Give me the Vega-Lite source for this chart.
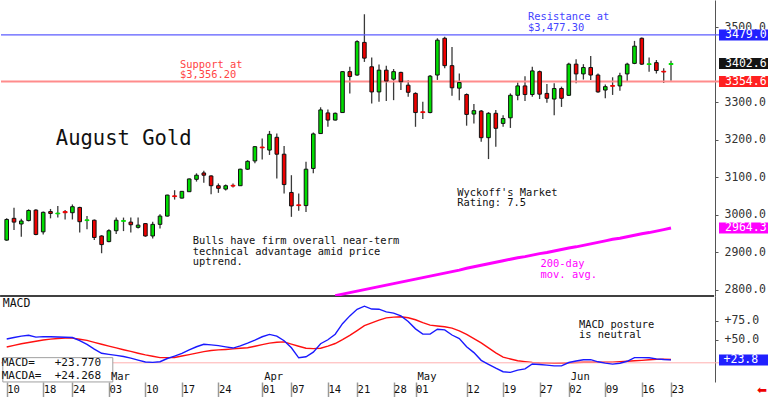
{
"$schema": "https://vega.github.io/schema/vega-lite/v6.json",
"padding": 0,
"background": "white",
"spacing": 0,
"bounds": "flush",
"config": {"view": {"stroke": null}, "font": "DejaVu Sans Mono", "axis": {"grid": false, "labelFont": "DejaVu Sans Mono"}},
"resolve": {"scale": {"x": "independent", "y": "independent"}},
"datasets": {"px": [
{"d":"2025-02-10","o":2932,"h":2990,"l":2930,"c":2987,"m":51.0,"s":40.6},
{"d":"2025-02-11","o":2990,"h":3018,"l":2959,"c":2980,"m":52.9,"s":42.7},
{"d":"2025-02-12","o":2975,"h":2989,"l":2941,"c":2983,"m":54.7,"s":44.8},
{"d":"2025-02-13","o":2984,"h":3014,"l":2982,"c":3011,"m":55.9,"s":46.4},
{"d":"2025-02-14","o":3012,"h":3014,"l":2945,"c":2947,"m":53.5,"s":48.1},
{"d":"2025-02-18","o":2954,"h":3008,"l":2947,"c":3006,"m":54.1,"s":49.7},
{"d":"2025-02-19","o":3008,"h":3015,"l":2990,"c":3003,"m":54.0,"s":50.8},
{"d":"2025-02-20","o":3002,"h":3023,"l":2992,"c":3004,"m":53.6,"s":51.7},
{"d":"2025-02-21","o":3008,"h":3012,"l":2987,"c":3005,"m":53.2,"s":52.1},
{"d":"2025-02-24","o":3005,"h":3027,"l":2987,"c":3021,"m":52.9,"s":52.1},
{"d":"2025-02-25","o":3019,"h":3021,"l":2952,"c":2981,"m":48.9,"s":50.7},
{"d":"2025-02-26","o":2984,"h":2996,"l":2961,"c":2986,"m":44.0,"s":49.2},
{"d":"2025-02-27","o":2985,"h":2987,"l":2932,"c":2939,"m":37.9,"s":46.7},
{"d":"2025-02-28","o":2943,"h":2945,"l":2897,"c":2920,"m":32.4,"s":44.1},
{"d":"2025-03-03","o":2928,"h":2961,"l":2926,"c":2957,"m":31.0,"s":41.7},
{"d":"2025-03-04","o":2957,"h":2992,"l":2948,"c":2985,"m":29.6,"s":39.4},
{"d":"2025-03-05","o":2982,"h":2992,"l":2956,"c":2984,"m":28.2,"s":37.0},
{"d":"2025-03-06","o":2980,"h":2992,"l":2952,"c":2973,"m":26.1,"s":34.8},
{"d":"2025-03-07","o":2966,"h":2992,"l":2963,"c":2972,"m":23.5,"s":32.5},
{"d":"2025-03-10","o":2976,"h":2977,"l":2941,"c":2943,"m":21.0,"s":30.4},
{"d":"2025-03-11","o":2943,"h":2981,"l":2936,"c":2974,"m":20.5,"s":28.6},
{"d":"2025-03-12","o":2974,"h":3001,"l":2963,"c":2996,"m":21.4,"s":26.8},
{"d":"2025-03-13","o":2996,"h":3053,"l":2995,"c":3052,"m":25.6,"s":26.8},
{"d":"2025-03-14","o":3050,"h":3065,"l":3040,"c":3048,"m":28.8,"s":27.0},
{"d":"2025-03-17","o":3044,"h":3063,"l":3043,"c":3062,"m":32.2,"s":28.8},
{"d":"2025-03-18","o":3061,"h":3096,"l":3060,"c":3095,"m":36.7,"s":30.7},
{"d":"2025-03-19","o":3094,"h":3110,"l":3088,"c":3105,"m":40.9,"s":32.6},
{"d":"2025-03-20","o":3111,"h":3117,"l":3085,"c":3105,"m":44.2,"s":34.5},
{"d":"2025-03-21","o":3103,"h":3105,"l":3054,"c":3077,"m":43.3,"s":36.1},
{"d":"2025-03-24","o":3077,"h":3083,"l":3058,"c":3070,"m":42.4,"s":36.8},
{"d":"2025-03-25","o":3068,"h":3080,"l":3064,"c":3077,"m":40.8,"s":37.4},
{"d":"2025-03-26","o":3078,"h":3083,"l":3072,"c":3076,"m":39.2,"s":38.1},
{"d":"2025-03-27","o":3077,"h":3122,"l":3077,"c":3121,"m":42.0,"s":38.9},
{"d":"2025-03-28","o":3121,"h":3145,"l":3119,"c":3142,"m":45.6,"s":39.6},
{"d":"2025-03-31","o":3143,"h":3183,"l":3137,"c":3181,"m":49.5,"s":41.6},
{"d":"2025-04-01","o":3180,"h":3203,"l":3147,"c":3178,"m":53.9,"s":43.7},
{"d":"2025-04-02","o":3172,"h":3223,"l":3159,"c":3214,"m":57.0,"s":45.7},
{"d":"2025-04-03","o":3206,"h":3216,"l":3096,"c":3161,"m":54.8,"s":46.8},
{"d":"2025-04-04","o":3161,"h":3183,"l":3056,"c":3080,"m":48.7,"s":47.3},
{"d":"2025-04-07","o":3059,"h":3105,"l":2994,"c":3023,"m":39.5,"s":44.4},
{"d":"2025-04-08","o":3026,"h":3056,"l":3010,"c":3024,"m":26.5,"s":41.6},
{"d":"2025-04-09","o":3024,"h":3141,"l":3007,"c":3121,"m":27.9,"s":38.9},
{"d":"2025-04-10","o":3123,"h":3219,"l":3110,"c":3215,"m":33.8,"s":38.5},
{"d":"2025-04-11","o":3216,"h":3286,"l":3215,"c":3279,"m":44.9,"s":39.0},
{"d":"2025-04-14","o":3271,"h":3280,"l":3234,"c":3252,"m":50.0,"s":41.8},
{"d":"2025-04-15","o":3252,"h":3272,"l":3251,"c":3270,"m":57.2,"s":45.1,"ma":2784},
{"d":"2025-04-16","o":3272,"h":3382,"l":3272,"c":3381,"m":70.9,"s":50.3,"ma":2788},
{"d":"2025-04-17","o":3381,"h":3394,"l":3323,"c":3368,"m":81.1,"s":55.8,"ma":2792},
{"d":"2025-04-21","o":3372,"h":3465,"l":3370,"c":3461,"m":89.7,"s":62.0,"ma":2796},
{"d":"2025-04-22","o":3459,"h":3534,"l":3407,"c":3417,"m":93.8,"s":68.3,"ma":2800},
{"d":"2025-04-23","o":3394,"h":3419,"l":3296,"c":3327,"m":90.0,"s":72.0,"ma":2804},
{"d":"2025-04-24","o":3327,"h":3400,"l":3301,"c":3385,"m":89.8,"s":75.6,"ma":2808},
{"d":"2025-04-25","o":3385,"h":3397,"l":3303,"c":3356,"m":86.4,"s":78.5,"ma":2812},
{"d":"2025-04-28","o":3361,"h":3388,"l":3305,"c":3381,"m":84.7,"s":79.5,"ma":2816},
{"d":"2025-04-29","o":3379,"h":3381,"l":3332,"c":3354,"m":81.1,"s":79.9,"ma":2820},
{"d":"2025-04-30","o":3345,"h":3358,"l":3314,"c":3326,"m":73.8,"s":78.7,"ma":2824},
{"d":"2025-05-01","o":3323,"h":3326,"l":3234,"c":3272,"m":64.2,"s":76.1,"ma":2828},
{"d":"2025-05-02","o":3274,"h":3301,"l":3255,"c":3272,"m":57.3,"s":72.3,"ma":2832},
{"d":"2025-05-05","o":3272,"h":3372,"l":3270,"c":3369,"m":57.4,"s":69.1,"ma":2836},
{"d":"2025-05-06","o":3372,"h":3470,"l":3359,"c":3465,"m":63.7,"s":67.9,"ma":2840},
{"d":"2025-05-07","o":3470,"h":3474,"l":3390,"c":3397,"m":62.9,"s":66.9,"ma":2844},
{"d":"2025-05-08","o":3397,"h":3447,"l":3317,"c":3338,"m":56.2,"s":65.1,"ma":2848},
{"d":"2025-05-09","o":3337,"h":3376,"l":3305,"c":3352,"m":51.5,"s":61.7,"ma":2852},
{"d":"2025-05-12","o":3320,"h":3323,"l":3237,"c":3267,"m":41.0,"s":57.0,"ma":2857},
{"d":"2025-05-13","o":3268,"h":3295,"l":3243,"c":3277,"m":33.3,"s":51.4,"ma":2861},
{"d":"2025-05-14","o":3276,"h":3279,"l":3194,"c":3205,"m":23.2,"s":45.9,"ma":2865},
{"d":"2025-05-15","o":3205,"h":3273,"l":3148,"c":3270,"m":18.1,"s":39.5,"ma":2869},
{"d":"2025-05-16","o":3270,"h":3279,"l":3181,"c":3230,"m":13.0,"s":33.0,"ma":2873},
{"d":"2025-05-19","o":3243,"h":3265,"l":3234,"c":3256,"m":8.4,"s":27.3,"ma":2877},
{"d":"2025-05-20","o":3258,"h":3323,"l":3231,"c":3318,"m":7.5,"s":25.0,"ma":2881},
{"d":"2025-05-21","o":3318,"h":3352,"l":3305,"c":3343,"m":10.5,"s":22.7,"ma":2885},
{"d":"2025-05-22","o":3343,"h":3369,"l":3303,"c":3320,"m":12.1,"s":21.6,"ma":2888},
{"d":"2025-05-23","o":3320,"h":3394,"l":3314,"c":3383,"m":18.5,"s":20.6,"ma":2892},
{"d":"2025-05-27","o":3381,"h":3384,"l":3308,"c":3321,"m":17.8,"s":20.1,"ma":2896},
{"d":"2025-05-28","o":3323,"h":3348,"l":3298,"c":3310,"m":17.0,"s":19.9,"ma":2899},
{"d":"2025-05-29","o":3308,"h":3350,"l":3265,"c":3336,"m":16.0,"s":19.6,"ma":2903},
{"d":"2025-05-30","o":3336,"h":3341,"l":3287,"c":3310,"m":16.0,"s":19.7,"ma":2907},
{"d":"2025-06-02","o":3318,"h":3405,"l":3316,"c":3401,"m":20.4,"s":20.0,"ma":2911},
{"d":"2025-06-03","o":3401,"h":3414,"l":3350,"c":3375,"m":22.3,"s":20.4,"ma":2914},
{"d":"2025-06-04","o":3375,"h":3401,"l":3360,"c":3392,"m":24.0,"s":20.7,"ma":2918},
{"d":"2025-06-05","o":3392,"h":3423,"l":3359,"c":3372,"m":24.1,"s":20.8,"ma":2922},
{"d":"2025-06-06","o":3372,"h":3376,"l":3325,"c":3327,"m":21.3,"s":20.8,"ma":2926},
{"d":"2025-06-09","o":3332,"h":3347,"l":3310,"c":3341,"m":19.6,"s":20.8,"ma":2930},
{"d":"2025-06-10","o":3344,"h":3366,"l":3319,"c":3342,"m":18.3,"s":20.9,"ma":2934},
{"d":"2025-06-11","o":3343,"h":3378,"l":3330,"c":3370,"m":19.5,"s":21.5,"ma":2937},
{"d":"2025-06-12","o":3375,"h":3405,"l":3354,"c":3401,"m":22.0,"s":22.0,"ma":2941},
{"d":"2025-06-13","o":3403,"h":3463,"l":3401,"c":3449,"m":26.8,"s":22.6,"ma":2945},
{"d":"2025-06-16","o":3470,"h":3472,"l":3399,"c":3401,"m":26.8,"s":23.2,"ma":2949},
{"d":"2025-06-17","o":3400,"h":3419,"l":3381,"c":3402,"m":26.6,"s":23.9,"ma":2952},
{"d":"2025-06-18","o":3405,"h":3412,"l":3376,"c":3384,"m":25.1,"s":24.5,"ma":2956},
{"d":"2025-06-20","o":3382,"h":3390,"l":3351,"c":3380,"m":24.3,"s":24.6,"ma":2960},
{"d":"2025-06-23","o":3400,"h":3410,"l":3357,"c":3402.6,"m":23.77,"s":24.27,"ma":2964.3}
]},
"vconcat": [
{
"width": 768, "height": 296,
"data": {"name": "px"},
"layer": [
{"mark": {"type": "rule", "color": "#3a3a3a", "strokeWidth": 1.3},
 "encoding": {
  "x": {"field": "d", "type": "ordinal",
   "axis": {"labels": false, "ticks": false, "domain": false, "title": null},
   "scale": {"type": "point", "padding": 0.603, "align": 0.648, "domain": ["2025-02-10","2025-02-11","2025-02-12","2025-02-13","2025-02-14","2025-02-18","2025-02-19","2025-02-20","2025-02-21","2025-02-24","2025-02-25","2025-02-26","2025-02-27","2025-02-28","2025-03-03","2025-03-04","2025-03-05","2025-03-06","2025-03-07","2025-03-10","2025-03-11","2025-03-12","2025-03-13","2025-03-14","2025-03-17","2025-03-18","2025-03-19","2025-03-20","2025-03-21","2025-03-24","2025-03-25","2025-03-26","2025-03-27","2025-03-28","2025-03-31","2025-04-01","2025-04-02","2025-04-03","2025-04-04","2025-04-07","2025-04-08","2025-04-09","2025-04-10","2025-04-11","2025-04-14","2025-04-15","2025-04-16","2025-04-17","2025-04-21","2025-04-22","2025-04-23","2025-04-24","2025-04-25","2025-04-28","2025-04-29","2025-04-30","2025-05-01","2025-05-02","2025-05-05","2025-05-06","2025-05-07","2025-05-08","2025-05-09","2025-05-12","2025-05-13","2025-05-14","2025-05-15","2025-05-16","2025-05-19","2025-05-20","2025-05-21","2025-05-22","2025-05-23","2025-05-27","2025-05-28","2025-05-29","2025-05-30","2025-06-02","2025-06-03","2025-06-04","2025-06-05","2025-06-06","2025-06-09","2025-06-10","2025-06-11","2025-06-12","2025-06-13","2025-06-16","2025-06-17","2025-06-18","2025-06-20","2025-06-23","2025-06-24","2025-06-25","2025-06-26","2025-06-27","2025-06-30","2025-07-01","2025-07-02","2025-07-03","2025-07-07","2025-07-08","2025-07-09","2025-07-10","2025-07-11"]}},
  "y": {"field": "l", "type": "quantitative", "scale": {"domain": [2783, 3572], "nice": false, "zero": false},
   "axis": {"orient": "right", "offset": -54, "title": null, "values": [2800, 2900, 3000, 3100, 3200, 3300, 3500], "format": ".1f",
    "tickSize": 3, "tickColor": "#555", "domainColor": "#555", "domainWidth": 1, "labelFontSize": 11.5, "labelColor": "#333", "labelPadding": 6, "labelOverlap": false, "labelBound": false, "labelFlush": false, "labelAlign": "left", "labelBaseline": "middle"}},
  "y2": {"field": "h"}}},
{"data": {"values": [{}]}, "mark": {"type": "rule", "color": "#5c5cff", "strokeWidth": 1.3}, "encoding": {"y": {"datum": 3479}}},
{"data": {"values": [{}]}, "mark": {"type": "rule", "color": "#ff8c8c", "strokeWidth": 2}, "encoding": {"y": {"datum": 3354.6}}},
{"data": {"values": [{}]}, "mark": {"type": "tick", "size": 714, "thickness": 1.5, "color": "#000000", "opacity": 1}, "encoding": {"x": {"datum": "2025-04-21", "type": "ordinal"}, "y": {"datum": 2783}}},
{"transform": [{"filter": "isValid(datum.ma)"}], "mark": {"type": "line", "color": "#ff00ff", "strokeWidth": 3, "clip": true}, "encoding": {"x": {"field": "d", "type": "ordinal"}, "y": {"field": "ma", "type": "quantitative"}}},
{"transform": [{"filter": "abs(datum.c - datum.o) >= 4"}],
 "mark": {"type": "bar", "size": 3.6, "strokeWidth": 1, "stroke": "#111111"},
 "encoding": {
  "x": {"field": "d", "type": "ordinal"},
  "y": {"field": "o", "type": "quantitative"},
  "y2": {"field": "c"},
  "fill": {"condition": {"test": "datum.c >= datum.o", "value": "#00dd00"}, "value": "#ee0000"}}},
{"transform": [{"filter": "abs(datum.c - datum.o) < 4"}],
 "mark": {"type": "bar", "size": 4, "strokeWidth": 1},
 "encoding": {
  "x": {"field": "d", "type": "ordinal"},
  "y": {"field": "o", "type": "quantitative"},
  "y2": {"field": "c"},
  "fill": {"condition": {"test": "datum.c >= datum.o", "value": "#00dd00"}, "value": "#ee0000"},
  "stroke": {"condition": {"test": "datum.c >= datum.o", "value": "#00dd00"}, "value": "#ee0000"}}},
{"data": {"values": [{}]}, "mark": {"type": "text", "align": "left", "baseline": "middle", "dx": 3, "fontSize": 10.4, "lineHeight": 10.4, "lineBreak": "\n", "font": "DejaVu Sans Mono", "color": "#4444ff"},
 "encoding": {"x": {"datum": "2025-05-22", "type": "ordinal"}, "y": {"datum": 3526}, "text": {"value": "Resistance at\n$3,477.30"}}},
{"data": {"values": [{}]}, "mark": {"type": "text", "align": "left", "baseline": "middle", "dx": -2, "fontSize": 10.4, "lineHeight": 10.4, "lineBreak": "\n", "font": "DejaVu Sans Mono", "color": "#ff4444"},
 "encoding": {"x": {"datum": "2025-03-17", "type": "ordinal"}, "y": {"datum": 3399}, "text": {"value": "Support at\n$3,356.20"}}},
{"data": {"values": [{}]}, "mark": {"type": "text", "align": "left", "baseline": "middle", "dx": -2, "fontSize": 20.5, "font": "DejaVu Sans Mono", "color": "#111111"},
 "encoding": {"x": {"datum": "2025-02-20", "type": "ordinal"}, "y": {"datum": 3201}, "text": {"value": "August Gold"}}},
{"data": {"values": [{}]}, "mark": {"type": "text", "align": "left", "baseline": "middle", "dx": 3.5, "fontSize": 10.4, "lineHeight": 10.8, "lineBreak": "\n", "font": "DejaVu Sans Mono", "color": "#111111"},
 "encoding": {"x": {"datum": "2025-03-18", "type": "ordinal"}, "y": {"datum": 2930}, "text": {"value": "Bulls have firm overall near-term\ntechnical advantage amid price\nuptrend."}}},
{"data": {"values": [{}]}, "mark": {"type": "text", "align": "left", "baseline": "middle", "dx": -2, "fontSize": 10.4, "lineHeight": 10.2, "lineBreak": "\n", "font": "DejaVu Sans Mono", "color": "#111111"},
 "encoding": {"x": {"datum": "2025-05-09", "type": "ordinal"}, "y": {"datum": 3058}, "text": {"value": "Wyckoff's Market\nRating: 7.5"}}},
{"data": {"values": [{}]}, "mark": {"type": "text", "align": "left", "baseline": "middle", "dx": 1, "fontSize": 10.4, "lineHeight": 10.6, "lineBreak": "\n", "font": "DejaVu Sans Mono", "color": "#ff00ff"},
 "encoding": {"x": {"datum": "2025-05-27", "type": "ordinal"}, "y": {"datum": 2867}, "text": {"value": "200-day\nmov. avg."}}},
{"data": {"values": [{"p": 3479.0, "t": "3479.0", "k": "res"}, {"p": 3402.6, "t": "3402.6", "k": "last"}, {"p": 3354.6, "t": "3354.6", "k": "sup"}, {"p": 2964.3, "t": "2964.3", "k": "ma"}]},
 "mark": {"type": "tick", "size": 50, "thickness": 11, "opacity": 1},
 "encoding": {"x": {"datum": "2025-07-08", "type": "ordinal"}, "y": {"field": "p", "type": "quantitative"},
  "color": {"field": "k", "type": "nominal", "scale": {"domain": ["res", "last", "sup", "ma"], "range": ["#2020ff", "#141414", "#ff2020", "#ff00ff"]}, "legend": null}}},
{"data": {"values": [{"p": 3479.0, "t": "3479.0"}, {"p": 3402.6, "t": "3402.6"}, {"p": 3354.6, "t": "3354.6"}, {"p": 2964.3, "t": "2964.3"}]},
 "mark": {"type": "text", "align": "left", "baseline": "middle", "dx": 3, "fontSize": 11.5, "font": "DejaVu Sans Mono", "color": "#ffffff"},
 "encoding": {"x": {"datum": "2025-07-02", "type": "ordinal"}, "y": {"field": "p", "type": "quantitative"}, "text": {"field": "t"}}}
]
},
{
"width": 768, "height": 86,
"data": {"name": "px"},
"layer": [
{"mark": {"type": "line", "color": "#ff1010", "strokeWidth": 1.4},
 "encoding": {
  "x": {"field": "d", "type": "ordinal",
   "scale": {"type": "point", "padding": 0.603, "align": 0.648, "domain": ["2025-02-10","2025-02-11","2025-02-12","2025-02-13","2025-02-14","2025-02-18","2025-02-19","2025-02-20","2025-02-21","2025-02-24","2025-02-25","2025-02-26","2025-02-27","2025-02-28","2025-03-03","2025-03-04","2025-03-05","2025-03-06","2025-03-07","2025-03-10","2025-03-11","2025-03-12","2025-03-13","2025-03-14","2025-03-17","2025-03-18","2025-03-19","2025-03-20","2025-03-21","2025-03-24","2025-03-25","2025-03-26","2025-03-27","2025-03-28","2025-03-31","2025-04-01","2025-04-02","2025-04-03","2025-04-04","2025-04-07","2025-04-08","2025-04-09","2025-04-10","2025-04-11","2025-04-14","2025-04-15","2025-04-16","2025-04-17","2025-04-21","2025-04-22","2025-04-23","2025-04-24","2025-04-25","2025-04-28","2025-04-29","2025-04-30","2025-05-01","2025-05-02","2025-05-05","2025-05-06","2025-05-07","2025-05-08","2025-05-09","2025-05-12","2025-05-13","2025-05-14","2025-05-15","2025-05-16","2025-05-19","2025-05-20","2025-05-21","2025-05-22","2025-05-23","2025-05-27","2025-05-28","2025-05-29","2025-05-30","2025-06-02","2025-06-03","2025-06-04","2025-06-05","2025-06-06","2025-06-09","2025-06-10","2025-06-11","2025-06-12","2025-06-13","2025-06-16","2025-06-17","2025-06-18","2025-06-20","2025-06-23","2025-06-24","2025-06-25","2025-06-26","2025-06-27","2025-06-30","2025-07-01","2025-07-02","2025-07-03","2025-07-07","2025-07-08","2025-07-09","2025-07-10","2025-07-11"]},
   "axis": {"orient": "bottom", "title": null, "domain": false, "values": ["2025-02-10","2025-02-18","2025-02-24","2025-03-03","2025-03-10","2025-03-17","2025-03-24","2025-04-01","2025-04-07","2025-04-14","2025-04-21","2025-04-28","2025-05-01","2025-05-12","2025-05-19","2025-05-27","2025-06-02","2025-06-09","2025-06-16","2025-06-23"],
    "labelExpr": "slice(datum.value, 8)", "labelAngle": 0, "tickSize": 15, "tickColor": "#999", "tickWidth": 1.5, "labelAlign": "left", "labelBaseline": "top", "labelPadding": -13, "labelDx": 2.5, "labelFontSize": 10.5, "labelColor": "#111", "labelOverlap": false, "labelBound": false, "labelFlush": false}},
  "y": {"field": "s", "type": "quantitative", "scale": {"domain": [-5, 107], "nice": false, "zero": false},
   "axis": {"orient": "right", "offset": -54, "title": null, "values": [50, 75], "format": "+.1f",
    "tickSize": 3, "tickColor": "#555", "domainColor": "#555", "domainWidth": 1, "labelFontSize": 11.5, "labelColor": "#333", "labelPadding": 6, "labelOverlap": false, "labelBound": false, "labelFlush": false, "labelAlign": "left", "labelBaseline": "middle"}}}},
{"data": {"values": [{}]}, "mark": {"type": "rule", "color": "#ffb0b0", "strokeWidth": 1}, "encoding": {"y": {"datum": 20}}},
{"mark": {"type": "line", "color": "#1a1aff", "strokeWidth": 1.4}, "encoding": {"x": {"field": "d", "type": "ordinal"}, "y": {"field": "m", "type": "quantitative"}}},
{"data": {"values": [{}]}, "mark": {"type": "text", "align": "left", "baseline": "middle", "dx": -4, "fontSize": 11.5, "font": "DejaVu Sans Mono", "color": "#111111"},
 "encoding": {"x": {"datum": "2025-02-10", "type": "ordinal"}, "y": {"datum": 96.7}, "text": {"value": "MACD"}}},
{"data": {"values": [{}]}, "mark": {"type": "text", "align": "left", "baseline": "middle", "dx": 3, "fontSize": 10.4, "lineHeight": 10.4, "lineBreak": "\n", "font": "DejaVu Sans Mono", "color": "#111111"},
 "encoding": {"x": {"datum": "2025-06-03", "type": "ordinal"}, "y": {"datum": 69.4}, "text": {"value": "MACD posture\nis neutral"}}},
{"data": {"values": [{}]}, "mark": {"type": "tick", "size": 110, "thickness": 24.3, "color": "#ffffff", "stroke": "#a0a0a0", "strokeWidth": 1, "opacity": 1},
 "encoding": {"x": {"datum": "2025-02-20", "type": "ordinal"}, "y": {"datum": 10.9}}},
{"data": {"values": [{}]}, "mark": {"type": "text", "align": "left", "baseline": "middle", "dx": -5, "fontSize": 11, "lineHeight": 13.3, "lineBreak": "\n", "font": "DejaVu Sans Mono", "color": "#111111"},
 "encoding": {"x": {"datum": "2025-02-10", "type": "ordinal"}, "y": {"datum": 20.3}, "text": {"value": "MACD=\u00a0\u00a0\u00a0+23.770\nMACDA=\u00a0\u00a0+24.268"}}},
{"data": {"values": [{"d": "2025-03-03", "t": "Mar"}, {"d": "2025-04-01", "t": "Apr"}, {"d": "2025-05-01", "t": "May"}, {"d": "2025-06-02", "t": "Jun"}]},
 "mark": {"type": "text", "align": "left", "baseline": "middle", "dx": 2, "fontSize": 10.5, "font": "DejaVu Sans Mono", "color": "#111111"},
 "encoding": {"x": {"field": "d", "type": "ordinal"}, "y": {"datum": 1.3}, "text": {"field": "t"}}},
{"data": {"values": [{"v": 23.77, "t": "+23.8"}]},
 "mark": {"type": "tick", "size": 50, "thickness": 11, "color": "#2020ff", "opacity": 1},
 "encoding": {"x": {"datum": "2025-07-08", "type": "ordinal"}, "y": {"field": "v", "type": "quantitative"}}},
{"data": {"values": [{"v": 23.77, "t": "+23.8"}]},
 "mark": {"type": "text", "align": "left", "baseline": "middle", "dx": 1.5, "fontSize": 11.5, "font": "DejaVu Sans Mono", "color": "#ffffff"},
 "encoding": {"x": {"datum": "2025-07-02", "type": "ordinal"}, "y": {"field": "v", "type": "quantitative"}, "text": {"field": "t"}}},
{"data": {"values": [{"t": "⬅"}]},
 "mark": {"type": "text", "align": "center", "baseline": "middle", "dx": 3.5, "fontSize": 12, "font": "DejaVu Sans", "color": "#ee0000"},
 "encoding": {"x": {"datum": "2025-07-10", "type": "ordinal"}, "y": {"datum": -15.4}, "text": {"field": "t"}}}
]
}
]
}
